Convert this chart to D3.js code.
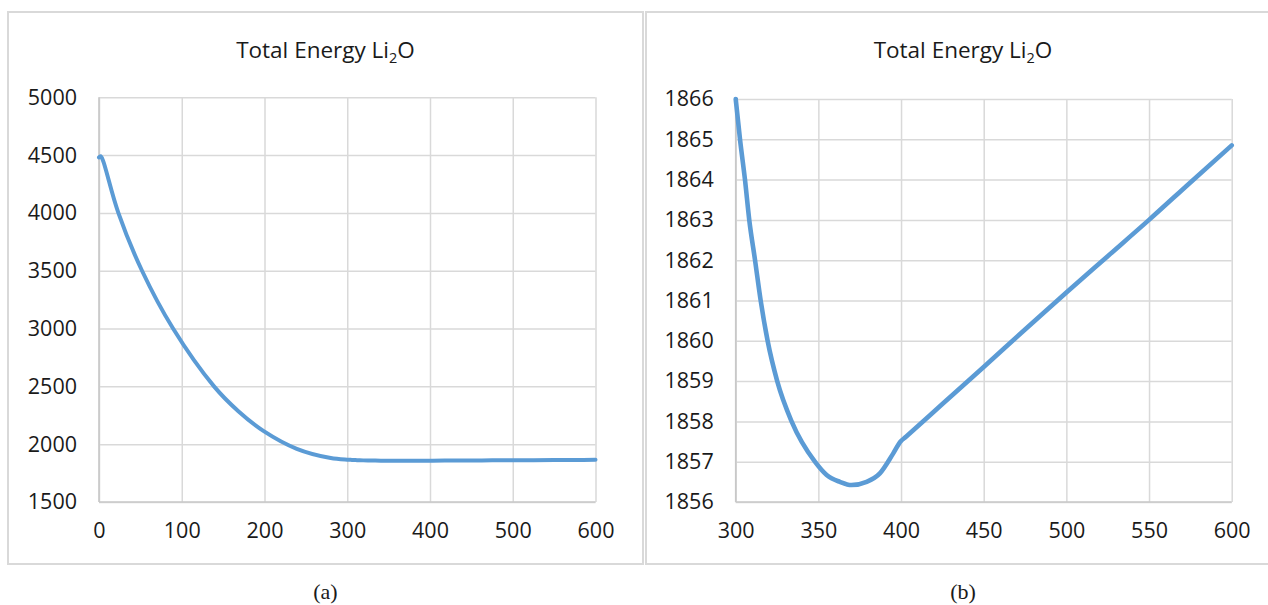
<!DOCTYPE html>
<html>
<head>
<meta charset="utf-8">
<script src="https://cdn.jsdelivr.net/npm/d3@7"></script>
<style>
  body { margin: 0; background: #fff; }
  svg { display: block; }
  .lbl { font-family: "Open Sans", sans-serif; fill: #1a1a1a; }
  .cap { font-family: "Liberation Serif", serif; fill: #1a1a1a; }
</style>
</head>
<body>
<svg id="fig" width="1268" height="605"></svg>
<script>
// MD run: simulation step vs total energy of Li2O
const steps = [0, 2, 5, 8, 23.4, 52, 89.5, 139, 168.4, 198.6, 239, 280,
  300, 302.6, 305.6, 308.2, 311.7, 315.1, 319.3, 325.1, 333.8, 347.9,
  355, 363, 370, 379.2, 387.2, 395.2, 399.7, 403, 425, 450, 475, 500, 525, 550, 575, 600];
const energy = [4480, 4490, 4450, 4380, 4000, 3500, 3000, 2500, 2285, 2115, 1960, 1880,
  1866, 1865, 1864, 1863, 1862, 1861, 1860, 1859, 1858, 1857,
  1856.67, 1856.5, 1856.42, 1856.5, 1856.71, 1857.2, 1857.5, 1857.62, 1858.43, 1859.35,
  1860.28, 1861.2, 1862.1, 1863.0, 1863.93, 1864.85];

const fullXTicks = [0, 100, 200, 300, 400, 500, 600];
const fullYTicks = [1500, 2000, 2500, 3000, 3500, 4000, 4500, 5000];
const zoomXTicks = [300, 350, 400, 450, 500, 550, 600];
const zoomYTicks = [1856, 1857, 1858, 1859, 1860, 1861, 1862, 1863, 1864, 1865, 1866];

const captions = ["(a)", "(b)"];

const points = steps.map((s, i) => ({ s, e: energy[i] }));

const panels = [
  { frame: { x: 8, y: 12, w: 635, h: 552 },
    plot: { x0: 99, x1: 595.5, y0: 97.3, y1: 502 },
    xDomain: [0, 600], yDomain: [1500, 5000],
    xTicks: fullXTicks, yTicks: fullYTicks,
    data: points, lineWidth: 4, curve: d3.curveCatmullRom.alpha(0.5), caption: captions[0] },
  { frame: { x: 646, y: 12, w: 634, h: 552 },
    plot: { x0: 735.7, x1: 1231.7, y0: 99, y1: 502 },
    xDomain: [300, 600], yDomain: [1856, 1866],
    xTicks: zoomXTicks, yTicks: zoomYTicks,
    data: points.filter(p => p.s >= 300), lineWidth: 4.6, curve: d3.curveMonotoneX, caption: captions[1] }
];

const svg = d3.select("#fig");
svg.append("rect").attr("width", 1268).attr("height", 605).attr("fill", "#fff");

const gridColor = "#d9d9d9";
const labelSize = 21.5;

panels.forEach(p => {
  const g = svg.append("g");
  const f = p.frame, pl = p.plot;

  // chart frame
  g.append("rect")
    .attr("x", f.x).attr("y", f.y).attr("width", f.w).attr("height", f.h)
    .attr("fill", "#fff").attr("stroke", gridColor).attr("stroke-width", 2);

  const x = d3.scaleLinear().domain(p.xDomain).range([pl.x0, pl.x1]);
  const y = d3.scaleLinear().domain(p.yDomain).range([pl.y1, pl.y0]);

  // horizontal gridlines + y labels
  const ya = g.append("g").attr("transform", `translate(${pl.x0},0)`)
    .call(d3.axisLeft(y).tickValues(p.yTicks).tickFormat(d3.format("d"))
      .tickSize(-(pl.x1 - pl.x0)).tickPadding(22));
  ya.select(".domain").remove();
  ya.selectAll(".tick line").attr("stroke", gridColor).attr("stroke-width", 1.5);
  ya.selectAll(".tick text").attr("class", "lbl").attr("font-size", labelSize);

  // vertical gridlines + x labels
  const xa = g.append("g").attr("transform", `translate(0,${pl.y1})`)
    .call(d3.axisBottom(x).tickValues(p.xTicks).tickFormat(d3.format("d"))
      .tickSize(-(pl.y1 - pl.y0)).tickPadding(21));
  xa.select(".domain").remove();
  xa.selectAll(".tick line").attr("stroke", gridColor).attr("stroke-width", 1.5);
  xa.selectAll(".tick text").attr("class", "lbl").attr("font-size", labelSize);

  // axis lines
  g.append("line").attr("x1", pl.x0).attr("x2", pl.x0).attr("y1", pl.y0).attr("y2", pl.y1)
    .attr("stroke", "#c8c8c8").attr("stroke-width", 1.6);
  g.append("line").attr("x1", pl.x0).attr("x2", pl.x1).attr("y1", pl.y1).attr("y2", pl.y1)
    .attr("stroke", "#c8c8c8").attr("stroke-width", 1.6);

  // energy curve
  const line = d3.line().x(d => x(d.s)).y(d => y(d.e)).curve(p.curve);
  g.append("path").datum(p.data)
    .attr("d", line)
    .attr("fill", "none").attr("stroke", "#5b9bd5")
    .attr("stroke-width", p.lineWidth).attr("stroke-linejoin", "round").attr("stroke-linecap", "round");

  // title
  const cx = f.x + f.w / 2;
  const t = g.append("text").attr("class", "lbl").attr("x", cx).attr("y", 58)
    .attr("text-anchor", "middle").attr("font-size", 22.5);
  t.append("tspan").text("Total Energy Li");
  t.append("tspan").attr("font-size", 14.5).attr("dy", 5).text("2");
  t.append("tspan").attr("dy", -5).text("O");

  // caption under the frame
  svg.append("text").attr("class", "cap").attr("x", cx).attr("y", 599)
    .attr("text-anchor", "middle").attr("font-size", 22).text(p.caption);
});
</script>
</body>
</html>
